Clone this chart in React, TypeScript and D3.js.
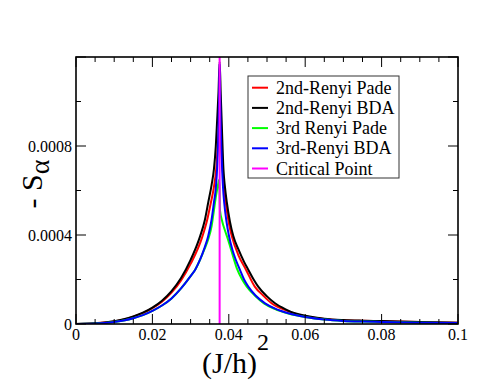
import { curveMonotoneX, line, range, scaleLinear } from "d3";

const WIDTH = 494;
const HEIGHT = 382;
const MARGIN = { top: 57, right: 36, bottom: 58, left: 76 };
const SERIF = "'Liberation Serif', 'Times New Roman', 'DejaVu Serif', serif";

// axis ticks
const xMajor = [0, 0.02, 0.04, 0.06, 0.08, 0.1];
const xLabels = ["0", "0.02", "0.04", "0.06", "0.08", "0.1"];
const yMajor = [0, 0.0004, 0.0008, 0.0012];
const yLabels = ["0", "0.0004", "0.0008", ""];

// critical point
const criticalX = 0.0376;

// values below are -S_alpha in units of 1e-6
// 2nd-Renyi Pade
const pade2X = [0, 0.0025, 0.005, 0.0075, 0.01, 0.0125, 0.015, 0.0175, 0.02, 0.0225, 0.025, 0.0275, 0.03, 0.0331, 0.0343, 0.0353, 0.0361, 0.0367, 0.0372, 0.0376,
  0.038, 0.0384, 0.0392, 0.04, 0.0408, 0.0425, 0.0445, 0.0468, 0.049, 0.0512, 0.055, 0.0573, 0.0604, 0.065, 0.07, 0.075, 0.08, 0.09, 0.1];
const pade2Y = [0, 1, 3, 6.3, 11.6, 20, 33, 49, 71, 100, 141, 196, 270, 394, 465, 545, 615, 695, 820, 900,
  790, 695, 545, 455, 394, 310, 244, 168, 128, 93, 61, 46, 34, 23, 17, 14.5, 12.5, 8.5, 5.5];

// 2nd-Renyi BDA
const bda2X = [0, 0.0025, 0.005, 0.0075, 0.01, 0.0125, 0.015, 0.0175, 0.02, 0.0225, 0.025, 0.0275, 0.03, 0.0325, 0.0337, 0.0346, 0.0355, 0.0361, 0.0366, 0.0369, 0.0373, 0.0376,
  0.0379, 0.0382, 0.0386, 0.039, 0.0395, 0.0403, 0.0412, 0.0425, 0.044, 0.0451, 0.0465, 0.0477, 0.05, 0.0521, 0.055, 0.0573, 0.0604, 0.065, 0.07, 0.075, 0.08, 0.09, 0.1];
const bda2Y = [0, 1, 3, 6.5, 12, 21, 34, 51, 74, 105, 148, 207, 288, 395, 465, 545, 625, 695, 800, 900, 1040, 1180,
  1030, 880, 695, 615, 545, 460, 394, 336, 279, 244, 200, 168, 124, 93, 65, 48, 36, 24, 18, 15, 13, 9, 6];

// 3rd Renyi Pade
const pade3X = [0, 0.0025, 0.005, 0.0075, 0.01, 0.0125, 0.015, 0.0175, 0.02, 0.0225, 0.025, 0.0275, 0.03, 0.0312, 0.0325, 0.0336, 0.0346, 0.0355, 0.0361, 0.0366, 0.037, 0.0373, 0.0375,
  0.0377, 0.0383, 0.039, 0.0397, 0.0405, 0.0421, 0.0435, 0.0447, 0.047, 0.0492, 0.052, 0.0556, 0.0604, 0.065, 0.07, 0.075, 0.08, 0.09, 0.1];
const pade3Y = [0, 0.8, 2.5, 5, 9, 16, 26, 40, 59, 83, 115, 160, 215, 244, 290, 335, 380, 440, 510, 570, 610, 635, 650,
  510, 460, 420, 385, 340, 250, 200, 168, 125, 93, 68, 47, 30, 20, 14, 11, 9, 6, 4];

// 3rd-Renyi BDA
const bda3X = [0, 0.0025, 0.005, 0.0075, 0.01, 0.0125, 0.015, 0.0175, 0.02, 0.0225, 0.025, 0.0275, 0.03, 0.0312, 0.0325, 0.0336, 0.0346, 0.0355, 0.0361, 0.0366, 0.037, 0.0373, 0.0375, 0.0376,
  0.0377, 0.0379, 0.0382, 0.0385, 0.0388, 0.0394, 0.04, 0.041, 0.0418, 0.0429, 0.044, 0.0451, 0.047, 0.0495, 0.052, 0.0556, 0.0604, 0.065, 0.07, 0.075, 0.08, 0.09, 0.1];
const bda3Y = [0, 0.8, 2.5, 5, 9, 16, 26, 40, 59, 83, 115, 160, 215, 244, 290, 340, 394, 470, 545, 610, 720, 880, 1060, 1170,
  1060, 880, 720, 610, 545, 460, 400, 330, 290, 244, 200, 168, 128, 93, 70, 48, 30, 20, 14, 11, 9, 6, 4];

const series = [
  { name: "2nd-Renyi Pade", color: "#ff0000", xs: pade2X, ys: pade2Y },
  { name: "2nd-Renyi BDA", color: "#000000", xs: bda2X, ys: bda2Y },
  { name: "3rd Renyi Pade", color: "#00ff00", xs: pade3X, ys: pade3Y },
  { name: "3rd-Renyi BDA", color: "#0000ff", xs: bda3X, ys: bda3Y },
];
const legendItems = [...series.map((s) => ({ name: s.name, color: s.color })), { name: "Critical Point", color: "#ff00ff" }];

export default function App() {
  const x = scaleLinear().domain([0, 0.1]).range([MARGIN.left, WIDTH - MARGIN.right]);
  const y = scaleLinear().domain([0, 0.0012]).range([HEIGHT - MARGIN.bottom, MARGIN.top]);
  const [x0, x1] = x.range();
  const [y0, y1] = y.range();
  const xMinor = range(0, 0.1001, 0.005).filter((v) => !xMajor.some((m) => Math.abs(m - v) < 1e-9));
  const yMinor = range(0.0002, 0.0012, 0.0004);

  const path = line<[number, number]>()
    .x((d) => x(d[0]))
    .y((d) => y(d[1] * 1e-6))
    .curve(curveMonotoneX);

  return (
    <svg width={WIDTH} height={HEIGHT} style={{ position: "absolute", left: 0, top: 0, background: "#fff", fontFamily: SERIF }}>
      <defs>
        <clipPath id="plot-clip">
          <rect x={x0} y={y1} width={x1 - x0} height={y0 - y1} />
        </clipPath>
      </defs>

      <g clipPath="url(#plot-clip)">
        {series.map((s) => (
          <path key={s.name} d={path(s.xs.map((v, i) => [v, s.ys[i]] as [number, number])) ?? ""} fill="none" stroke={s.color} strokeWidth={2} />
        ))}
        <line x1={x(criticalX)} x2={x(criticalX)} y1={y0} y2={y1} stroke="#ff00ff" strokeWidth={2} />
      </g>

      {/* ticks, inward on all four sides */}
      <g stroke="#000" strokeWidth={1}>
        {xMajor.map((v) => (
          <g key={`xM${v}`}>
            <line x1={x(v)} x2={x(v)} y1={y0} y2={y0 - 10} />
            <line x1={x(v)} x2={x(v)} y1={y1} y2={y1 + 10} />
          </g>
        ))}
        {xMinor.map((v) => (
          <g key={`xm${v}`}>
            <line x1={x(v)} x2={x(v)} y1={y0} y2={y0 - 5} />
            <line x1={x(v)} x2={x(v)} y1={y1} y2={y1 + 5} />
          </g>
        ))}
        {yMajor.map((v) => (
          <g key={`yM${v}`}>
            <line x1={x0} x2={x0 + 10} y1={y(v)} y2={y(v)} />
            <line x1={x1} x2={x1 - 10} y1={y(v)} y2={y(v)} />
          </g>
        ))}
        {yMinor.map((v) => (
          <g key={`ym${v}`}>
            <line x1={x0} x2={x0 + 5} y1={y(v)} y2={y(v)} />
            <line x1={x1} x2={x1 - 5} y1={y(v)} y2={y(v)} />
          </g>
        ))}
      </g>

      <rect x={x0} y={y1} width={x1 - x0} height={y0 - y1} fill="none" stroke="#000" strokeWidth={1.6} />

      {xMajor.map((v, i) => (
        <text key={`xl${v}`} x={x(v)} y={y0 + 16} textAnchor="middle" fontSize={16}>
          {xLabels[i]}
        </text>
      ))}
      {yMajor.map((v, i) => (
        <text key={`yl${v}`} x={x0 - 4} y={y(v) + 6} textAnchor="end" fontSize={16}>
          {yLabels[i]}
        </text>
      ))}

      <text x={202} y={373} fontSize={30}>
        (J/h)
        <tspan fontSize={24} dy={-23}>2</tspan>
      </text>

      <text transform={`translate(42, 184) rotate(-90)`} textAnchor="middle" fontSize={30}>
        - S
        <tspan fontSize={28} dy={7}>α</tspan>
      </text>

      {/* legend */}
      <rect x={248} y={76} width={151} height={102} fill="#fff" stroke="#333" strokeWidth={1} />
      {legendItems.map((item, i) => {
        const cy = 87.7 + i * 20.2;
        return (
          <g key={item.name}>
            <line x1={252} x2={268} y1={cy} y2={cy} stroke={item.color} strokeWidth={2} />
            <text x={276} y={cy + 6} fontSize={18}>
              {item.name}
            </text>
          </g>
        );
      })}
    </svg>
  );
}
